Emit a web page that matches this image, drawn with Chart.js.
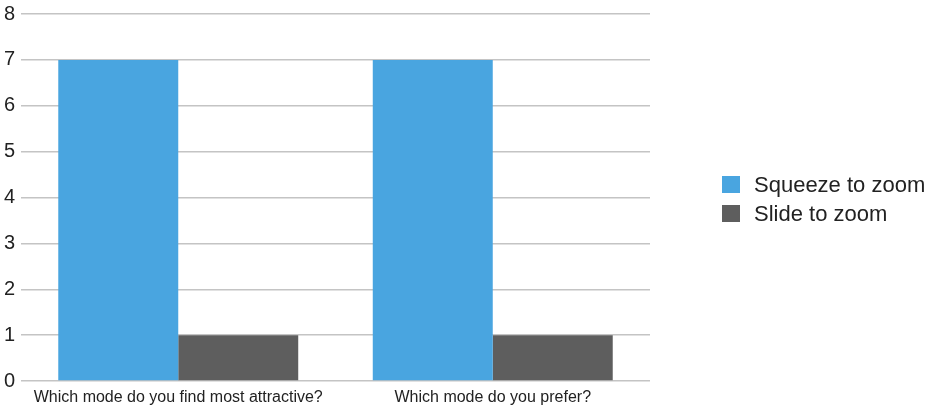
<!DOCTYPE html>
<html>
<head>
<meta charset="utf-8">
<script src="https://cdn.jsdelivr.net/npm/chart.js@4/dist/chart.umd.min.js"></script>
<style>
  html, body { margin: 0; padding: 0; background: #fff; }
  #wrap { width: 938px; height: 411px; position: relative; }
</style>
</head>
<body>
<div id="wrap"><canvas id="chart"></canvas></div>
<script>
// Survey questions and vote counts per zoom mode
const questions = ['Which mode do you find most attractive?', 'Which mode do you prefer?'];
const squeezeVotes = [7, 7];
const slideVotes = [1, 1];
const seriesNames = ['Squeeze to zoom', 'Slide to zoom'];
const yTicks = [0, 1, 2, 3, 4, 5, 6, 7, 8];

const FONT = '"Liberation Sans", Arial, Helvetica, sans-serif';

// Legend drawn beside the plot area, vertically centred on it
const sideLegend = {
  id: 'sideLegend',
  afterDraw(chart) {
    const { ctx, chartArea } = chart;
    const x = chartArea.right + 72;
    const rowGap = 29;
    const n = chart.data.datasets.length;
    const cy0 = (chartArea.top + chartArea.bottom) / 2 + 2 - rowGap * (n - 1) / 2;
    ctx.save();
    ctx.font = '22px ' + FONT;
    ctx.textBaseline = 'middle';
    ctx.textAlign = 'left';
    chart.data.datasets.forEach((ds, i) => {
      const cy = cy0 + i * rowGap;
      ctx.fillStyle = ds.backgroundColor;
      ctx.fillRect(x, cy - 9, 18, 17);
      ctx.fillStyle = '#222';
      ctx.fillText(ds.label, x + 32, cy + 1);
    });
    ctx.restore();
  }
};

new Chart(document.getElementById('chart'), {
  type: 'bar',
  data: {
    labels: questions,
    datasets: [
      { label: seriesNames[0], data: squeezeVotes, backgroundColor: '#49a5e0' },
      { label: seriesNames[1], data: slideVotes, backgroundColor: '#5e5e5e' }
    ]
  },
  options: {
    responsive: true,
    maintainAspectRatio: false,
    animation: false,
    layout: { padding: { top: 14, right: 288, bottom: 3, left: 4 } },
    datasets: { bar: { categoryPercentage: 0.763, barPercentage: 1.0 } },
    plugins: { legend: { display: false }, tooltip: { enabled: false } },
    scales: {
      x: {
        grid: { display: false, drawTicks: false },
        border: { display: false },
        ticks: { color: '#222', font: { family: FONT, size: 16 }, padding: 7, maxRotation: 0 },
        afterFit(scale) { scale.height = 27; }
      },
      y: {
        min: 0,
        max: 8,
        afterBuildTicks(axis) { axis.ticks = yTicks.map(v => ({ value: v })); },
        grid: { color: '#c4c4c4', lineWidth: 1.5, drawTicks: false },
        border: { display: false },
        ticks: { color: '#222', font: { family: FONT, size: 20, lineHeight: 0.8 }, padding: 6 },
        afterFit(scale) { scale.width = 17; scale.paddingTop = 0; scale.paddingBottom = 0; }
      }
    }
  },
  plugins: [sideLegend]
});
</script>
</body>
</html>
